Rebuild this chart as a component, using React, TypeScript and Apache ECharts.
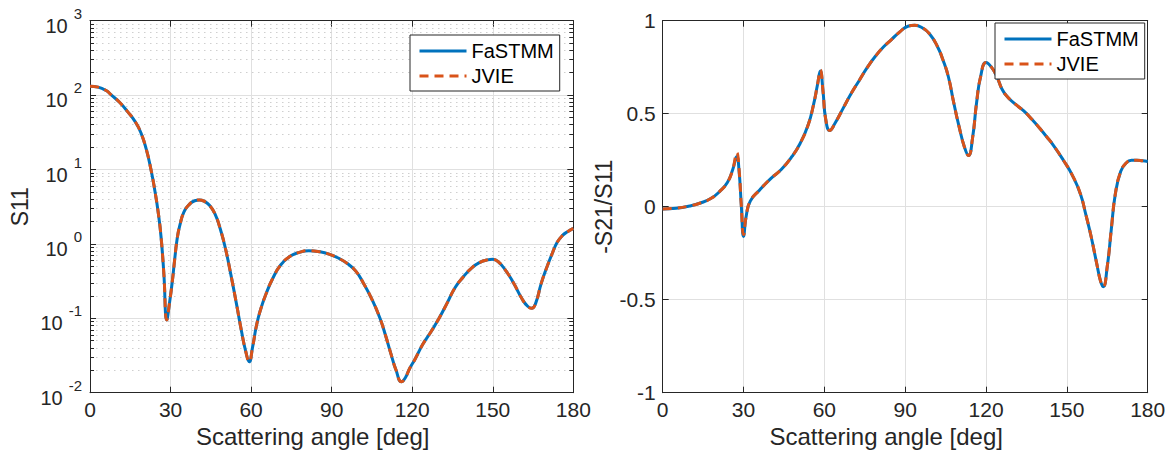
import React, { useEffect, useRef } from "react";
import * as echarts from "echarts";

// ---------- data ----------
const X_TICKS = [0, 30, 60, 90, 120, 150, 180];
const LOG_DECADES = [0.01, 0.1, 1, 10, 100, 1000];
const RATIO_TICKS = [-1, -0.5, 0, 0.5, 1];

const ANGLE_S11 = [
  0, 3, 6, 8, 11, 14, 17, 19, 21, 22.7, 24, 25.5, 26.5, 27.5, 28.6,
  29.6, 30.6, 31.5, 32.5, 33.5, 35, 37, 39, 40.8, 42.5, 44.5, 46.5, 48.5, 50.5,
  52.5, 54.5, 56.5, 58, 59.3, 60.5, 62, 63.5, 65.5, 68, 71, 74.5, 78, 81.5,
  85, 89, 93, 96, 99, 102, 105, 108, 110, 112, 114, 116, 117.5, 119, 121, 124,
  127, 130, 133, 136, 139, 142, 145, 148, 150, 152, 155, 157.7, 161, 163,
  164.5, 166, 168, 170, 172, 174, 176, 178, 180,
];
const S11_FASTMM = [
  132, 128, 115, 100, 80, 60, 43, 31, 18.5, 10, 5.6, 2.5, 1.2, 0.4, 0.095,
  0.16, 0.3, 0.6, 1.2, 1.8, 2.7, 3.4, 3.8, 3.9, 3.75, 3.3, 2.55, 1.6, 0.85,
  0.38, 0.16, 0.065, 0.036, 0.026, 0.04, 0.08, 0.13, 0.21, 0.34, 0.52, 0.68, 0.77, 0.81,
  0.79, 0.73, 0.63, 0.54, 0.43, 0.29, 0.18, 0.1, 0.06, 0.034, 0.02, 0.014, 0.016, 0.021, 0.028, 0.045,
  0.066, 0.1, 0.16, 0.26, 0.36, 0.47, 0.56, 0.61, 0.62, 0.58, 0.43, 0.3, 0.18, 0.145,
  0.136, 0.16, 0.29, 0.47, 0.72, 1.05, 1.3, 1.47, 1.62,
];
const S11_JVIE = [...S11_FASTMM];

const ANGLE_RATIO = [
  0, 5, 10, 14, 18, 21, 24, 26, 27.5, 28.3, 29.2, 30, 31, 32.5, 36, 40, 44,
  48, 51, 54, 56, 57.5, 58.5, 59.5, 60.5, 62, 64, 67, 70, 73, 76, 79, 82, 85,
  88, 91, 93.5, 96, 99, 102, 104, 106, 108, 110, 112, 113.5, 115, 116.5, 118,
  120, 122, 124, 126, 128, 131, 134, 137, 140, 142.5, 145, 148.7, 152, 155,
  157, 159, 161, 162.5, 163.5, 165, 166.5, 168, 170, 172, 174, 176, 178, 180,
];
const RATIO_FASTMM = [
  -0.012, -0.008, 0.004, 0.02, 0.045, 0.08, 0.13, 0.2, 0.27, 0.2, 0.0, -0.16, -0.05, 0.03, 0.09, 0.15, 0.2,
  0.27, 0.34, 0.44, 0.55, 0.66, 0.73, 0.62, 0.47, 0.41, 0.45, 0.53, 0.61, 0.68, 0.75, 0.81, 0.86, 0.9,
  0.94, 0.97, 0.975, 0.965, 0.93, 0.86, 0.79, 0.7, 0.56, 0.43, 0.32, 0.275, 0.37, 0.56, 0.7,
  0.775, 0.75, 0.7, 0.63, 0.59, 0.55, 0.515, 0.47, 0.42, 0.376, 0.33, 0.25, 0.17, 0.07,
  -0.04, -0.16, -0.3, -0.4, -0.43, -0.32, -0.12, 0.07, 0.19, 0.235, 0.25, 0.25, 0.247, 0.243,
];
const RATIO_JVIE = [
  -0.012, -0.008, 0.004, 0.02, 0.045, 0.08, 0.13, 0.2, 0.29, 0.21, 0.0, -0.15, -0.05, 0.03, 0.09, 0.15, 0.2,
  0.27, 0.34, 0.44, 0.55, 0.66, 0.735, 0.62, 0.47, 0.41, 0.45, 0.53, 0.61, 0.68, 0.75, 0.81, 0.86, 0.9,
  0.94, 0.97, 0.975, 0.965, 0.93, 0.86, 0.79, 0.7, 0.56, 0.43, 0.32, 0.275, 0.37, 0.56, 0.7,
  0.775, 0.75, 0.7, 0.63, 0.59, 0.55, 0.515, 0.47, 0.42, 0.376, 0.33, 0.25, 0.17, 0.07,
  -0.04, -0.16, -0.3, -0.4, -0.43, -0.32, -0.12, 0.07, 0.19, 0.235, 0.25, 0.25, 0.247, 0.243,
];

const LOG_MINOR: number[] = [];
for (let k = -2; k <= 2; k++) {
  for (let m = 2; m <= 9; m++) LOG_MINOR.push(m * Math.pow(10, k));
}

// ---------- style ----------
const FONT = "'Liberation Sans', Arial, Helvetica, sans-serif";
const AX = "#262626";
const GRID = "#e0e0e0";
const MINOR = "#cfcfcf";
const BLUE = "#0072BD";
const ORANGE = "#D95319";
const DASH = [9, 6];

const pairs = (xs: number[], ys: number[]) => xs.map((x, i) => [x, ys[i]]);

export default function App() {
  const ref = useRef<HTMLDivElement>(null);
  useEffect(() => {
    if (!ref.current) return;
    const chart = echarts.init(ref.current, undefined, { renderer: "svg" });

    const xAxisBase = (gi: number) => ({
      gridIndex: gi,
      type: "value",
      min: 0,
      max: 180,
      interval: 30,
      axisLine: { show: true, onZero: false, lineStyle: { color: AX, width: 1 } },
      axisTick: { show: true, inside: true, length: 6, lineStyle: { color: AX } },
    });

    const legendBase = {
      data: [
        { name: "FaSTMM", lineStyle: { color: BLUE, width: 3, type: "solid" } },
        { name: "JVIE", lineStyle: { color: ORANGE, width: 3, type: DASH } },
      ],
      orient: "vertical",
      z: 20,
      itemWidth: 47,
      itemHeight: 20,
      itemGap: 5,
      padding: [6, 6, 5, 8],
      backgroundColor: "#ffffff",
      borderColor: AX,
      borderWidth: 1,
      borderRadius: 0,
      itemStyle: { opacity: 0, borderWidth: 0 },
      textStyle: { color: "#000000", fontSize: 20, fontFamily: FONT, lineHeight: 20 },
    };

    const curve = (name: string, xi: number, yi: number, data: number[][], color: string, dashed: boolean, z: number) => ({
      type: "line",
      name,
      xAxisIndex: xi,
      yAxisIndex: yi,
      data,
      showSymbol: false,
      symbol: "none",
      smooth: 0.5,
      z,
      lineStyle: dashed ? { color, width: 3, type: DASH } : { color, width: 3 },
      itemStyle: { color },
    });

    const option: any = {
      animation: false,
      backgroundColor: "#ffffff",
      textStyle: { fontFamily: FONT },
      grid: [
        { left: 90, top: 20.7, width: 483.3, height: 372, containLabel: false },
        { left: 662.7, top: 20.7, width: 485, height: 372, containLabel: false },
      ],
      xAxis: [
        {
          ...xAxisBase(0),
          position: "bottom",
          axisLabel: { color: AX, fontSize: 21, margin: 6, fontFamily: FONT },
          splitLine: { show: true, lineStyle: { color: GRID, width: 1 } },
          name: "Scattering angle [deg]",
          nameLocation: "middle",
          nameGap: 30,
          nameTextStyle: { color: AX, fontSize: 24, fontFamily: FONT, padding: [0, 38, 0, 0] },
        },
        { ...xAxisBase(0), position: "top", axisLabel: { show: false }, splitLine: { show: false } },
        {
          ...xAxisBase(1),
          position: "bottom",
          axisLabel: { color: AX, fontSize: 21, margin: 6, fontFamily: FONT },
          splitLine: { show: true, lineStyle: { color: GRID, width: 1 } },
          name: "Scattering angle [deg]",
          nameLocation: "middle",
          nameGap: 30,
          nameTextStyle: { color: AX, fontSize: 24, fontFamily: FONT, padding: [0, 38, 0, 0] },
        },
        { ...xAxisBase(1), position: "top", axisLabel: { show: false }, splitLine: { show: false } },
      ],
      yAxis: [
        {
          gridIndex: 0,
          type: "log",
          logBase: 10,
          min: LOG_DECADES[0],
          max: LOG_DECADES[LOG_DECADES.length - 1],
          position: "left",
          axisLine: { show: true, onZero: false, lineStyle: { color: AX, width: 1 } },
          axisTick: { show: true, inside: true, length: 6, lineStyle: { color: AX } },
          splitLine: { show: true, lineStyle: { color: GRID, width: 1 } },
          axisLabel: {
            margin: 8,
            color: AX,
            formatter: (v: number) => `{b|10}{s|${Math.round(Math.log10(v))}}`,
            rich: {
              b: { fontSize: 20, fontFamily: FONT, color: AX, lineHeight: 30, padding: [9, 0, 0, 0], verticalAlign: "bottom" },
              s: { fontSize: 15, fontFamily: FONT, color: AX, lineHeight: 30, padding: [0, 0, 0, 6], verticalAlign: "top" },
            },
          },
          name: "S11",
          nameLocation: "middle",
          nameGap: 59,
          nameTextStyle: { color: AX, fontSize: 23, fontFamily: FONT },
        },
        {
          gridIndex: 0,
          type: "log",
          logBase: 10,
          min: LOG_DECADES[0],
          max: LOG_DECADES[LOG_DECADES.length - 1],
          position: "right",
          axisLine: { show: true, onZero: false, lineStyle: { color: AX, width: 1 } },
          axisTick: { show: true, inside: true, length: 6, lineStyle: { color: AX } },
          splitLine: { show: false },
          axisLabel: { show: false },
        },
        {
          gridIndex: 1,
          type: "value",
          min: RATIO_TICKS[0],
          max: RATIO_TICKS[RATIO_TICKS.length - 1],
          interval: 0.5,
          position: "left",
          axisLine: { show: true, onZero: false, lineStyle: { color: AX, width: 1 } },
          axisTick: { show: true, inside: true, length: 6, lineStyle: { color: AX } },
          splitLine: { show: true, lineStyle: { color: GRID, width: 1 } },
          axisLabel: { color: AX, fontSize: 21, margin: 7, fontFamily: FONT, formatter: (v: number) => `${v}` },
          name: "-S21/S11",
          nameLocation: "middle",
          nameGap: 37,
          nameTextStyle: { color: AX, fontSize: 23, fontFamily: FONT },
        },
        {
          gridIndex: 1,
          type: "value",
          min: RATIO_TICKS[0],
          max: RATIO_TICKS[RATIO_TICKS.length - 1],
          interval: 0.5,
          position: "right",
          axisLine: { show: true, onZero: false, lineStyle: { color: AX, width: 1 } },
          axisTick: { show: true, inside: true, length: 6, lineStyle: { color: AX } },
          splitLine: { show: false },
          axisLabel: { show: false },
        },
      ],
      legend: [
        { ...legendBase, left: 410, top: 35 },
        { ...legendBase, left: 995, top: 23 },
      ],
      series: [
        {
          type: "line",
          name: "minor",
          xAxisIndex: 0,
          yAxisIndex: 0,
          data: [],
          silent: true,
          z: 1,
          markLine: {
            silent: true,
            symbol: "none",
            animation: false,
            z: 1,
            label: { show: false },
            data: [
              ...LOG_MINOR.map((v) => ({ yAxis: v, lineStyle: { color: MINOR, width: 1, type: [1.5, 4.5] } })),
              ...LOG_MINOR.map((v) => [
                { coord: [0, v], lineStyle: { color: AX, width: 1, type: "solid" } },
                { coord: [1.5, v] },
              ]),
              ...LOG_MINOR.map((v) => [
                { coord: [178.5, v], lineStyle: { color: AX, width: 1, type: "solid" } },
                { coord: [180, v] },
              ]),
            ],
          },
        },
        curve("FaSTMM", 0, 0, pairs(ANGLE_S11, S11_FASTMM), BLUE, false, 3),
        curve("JVIE", 0, 0, pairs(ANGLE_S11, S11_JVIE), ORANGE, true, 4),
        curve("FaSTMM", 2, 2, pairs(ANGLE_RATIO, RATIO_FASTMM), BLUE, false, 3),
        curve("JVIE", 2, 2, pairs(ANGLE_RATIO, RATIO_JVIE), ORANGE, true, 4),
      ],
    };
    chart.setOption(option);
    return () => chart.dispose();
  }, []);

  return (
    <div
      ref={ref}
      style={{ position: "fixed", left: 0, top: 0, width: 1171, height: 455, background: "#fff" }}
    />
  );
}
